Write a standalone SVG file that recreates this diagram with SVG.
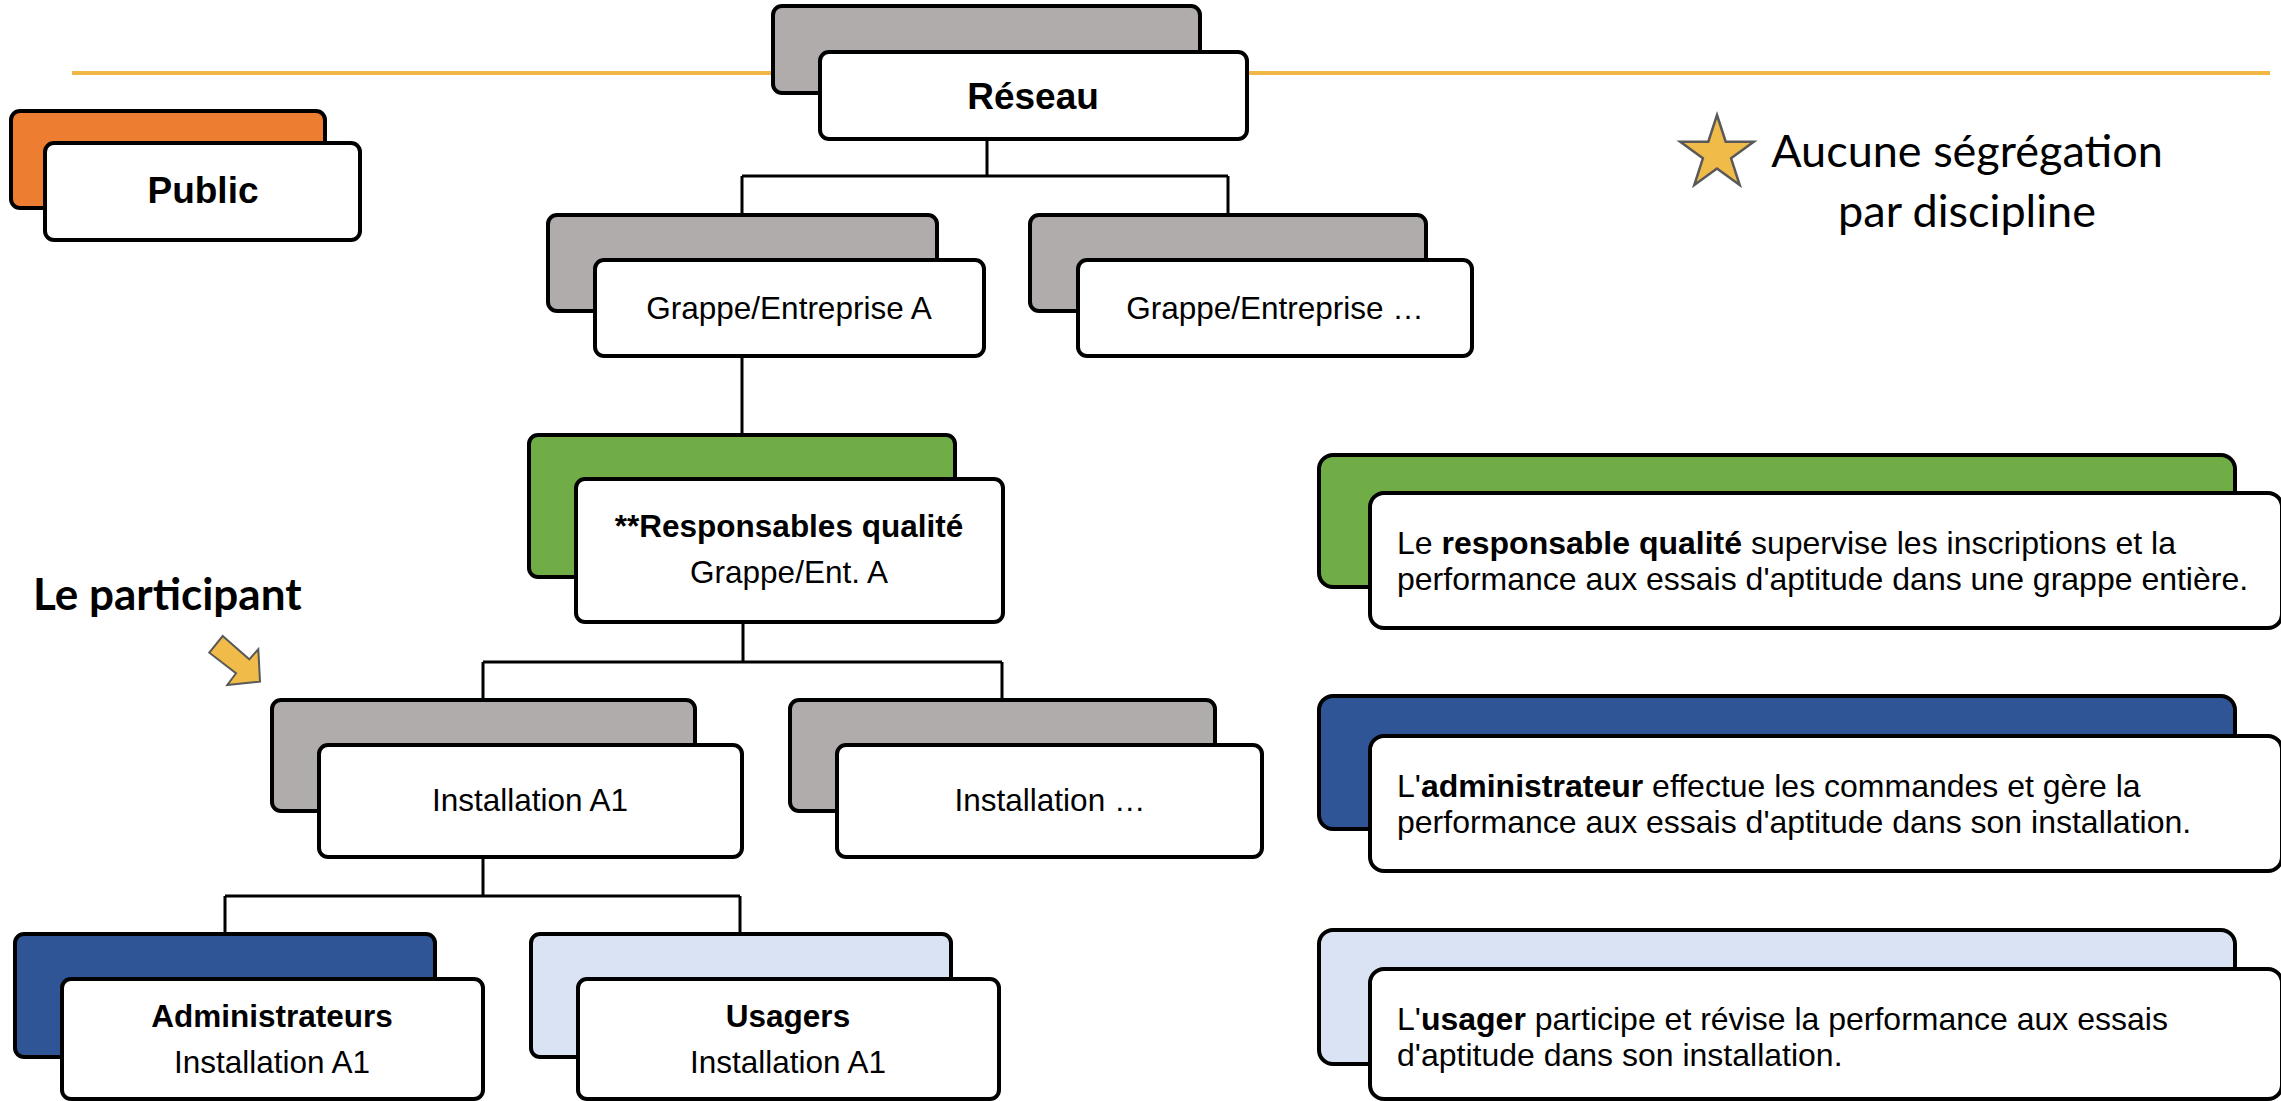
<svg xmlns="http://www.w3.org/2000/svg" width="2281" height="1101" viewBox="0 0 2281 1101">
<style>
.bk{stroke:#000;stroke-width:4;}
.fr{fill:#fff;stroke:#000;stroke-width:4;}
.gray{fill:#AFACAB;}
.orange{fill:#ED7D31;}
.green{fill:#70AD47;}
.blue{fill:#2F5597;}
.light{fill:#DAE3F3;}
.t{font-family:"Liberation Sans",Arial,sans-serif;font-size:31.5px;fill:#000;}
.tc{text-anchor:middle;}
.b{font-weight:bold;}
.big{font-size:37px;font-weight:bold;}
.desc{font-family:"Liberation Sans",Arial,sans-serif;font-size:32px;fill:#000;}
.cal{font-family:Lato,"Open Sans",sans-serif;fill:#000;}
.conn{fill:none;stroke:#000;stroke-width:3;}
</style>
<rect width="2281" height="1101" fill="#fff"/>
<line x1="72" y1="73" x2="2270" y2="73" stroke="#F0B744" stroke-width="4"/>

<g id="connectors">
<path class="conn" d="M987 139 V176 M742 176 H1228 M742 176 V215 M1228 176 V215"/>
<path class="conn" d="M742 355 V435"/>
<path class="conn" d="M743 622 V662 M483 662 H1002 M483 662 V700 M1002 662 V700"/>
<path class="conn" d="M483 857 V896 M225 896 H740 M225 896 V934 M740 896 V934"/>
</g>

<g id="reseau">
<rect class="bk gray" x="773" y="6" width="427" height="87" rx="9"/>
<rect class="fr" x="820" y="52" width="427" height="87" rx="9"/>
<text class="t tc big" x="1033" y="109">Réseau</text>
</g>

<g id="public">
<rect class="bk orange" x="11" y="111" width="314" height="97" rx="9"/>
<rect class="fr" x="45" y="143" width="315" height="97" rx="9"/>
<text class="t tc big" x="203" y="203">Public</text>
</g>

<g id="grappe-a">
<rect class="bk gray" x="548" y="215" width="389" height="96" rx="9"/>
<rect class="fr" x="595" y="260" width="389" height="96" rx="9"/>
<text class="t tc" x="789" y="319">Grappe/Entreprise A</text>
</g>

<g id="grappe-etc">
<rect class="bk gray" x="1030" y="215" width="396" height="96" rx="9"/>
<rect class="fr" x="1078" y="260" width="394" height="96" rx="9"/>
<text class="t tc" x="1275" y="319">Grappe/Entreprise …</text>
</g>

<g id="responsables">
<rect class="bk green" x="529" y="435" width="426" height="142" rx="9"/>
<rect class="fr" x="576" y="479" width="427" height="143" rx="9"/>
<text class="t tc b" x="789" y="537">**Responsables qualité</text>
<text class="t tc" x="789" y="583">Grappe/Ent. A</text>
</g>

<g id="installation-a1">
<rect class="bk gray" x="272" y="700" width="423" height="111" rx="9"/>
<rect class="fr" x="319" y="745" width="423" height="112" rx="9"/>
<text class="t tc" x="530" y="811">Installation A1</text>
</g>

<g id="installation-etc">
<rect class="bk gray" x="790" y="700" width="425" height="111" rx="9"/>
<rect class="fr" x="837" y="745" width="425" height="112" rx="9"/>
<text class="t tc" x="1050" y="811">Installation …</text>
</g>

<g id="administrateurs">
<rect class="bk blue" x="15" y="934" width="420" height="123" rx="9"/>
<rect class="fr" x="62" y="979" width="421" height="120" rx="9"/>
<text class="t tc b" x="272" y="1027">Administrateurs</text>
<text class="t tc" x="272" y="1073">Installation A1</text>
</g>

<g id="usagers">
<rect class="bk light" x="531" y="934" width="420" height="123" rx="9"/>
<rect class="fr" x="578" y="979" width="421" height="120" rx="9"/>
<text class="t tc b" x="788" y="1027">Usagers</text>
<text class="t tc" x="788" y="1073">Installation A1</text>
</g>

<g id="legend-star">
<polygon points="1717,115 1725.7,141.7 1753.8,141.7 1731.1,158.3 1739.7,185 1717,168.5 1694.3,185 1702.9,158.3 1680.2,141.7 1708.3,141.7" fill="#F0BB48" stroke="#595959" stroke-width="2.5" stroke-linejoin="miter"/>
<text class="cal" font-size="45" text-anchor="middle" x="1967" y="167">Aucune ségrégation</text>
<text class="cal" font-size="45" text-anchor="middle" x="1967" y="227">par discipline</text>
</g>

<g id="participant">
<text class="cal" font-size="44" font-weight="bold" x="33" y="610">Le participant</text>
<polygon points="222.7,636 249.3,659.3 258.3,649.3 260,681.7 227.3,685 236,673.3 209.3,652.7" fill="#F0BB48" stroke="#595959" stroke-width="2" stroke-linejoin="miter"/>
</g>

<g id="desc-responsable">
<rect class="bk green" x="1319" y="455" width="916" height="132" rx="14"/>
<rect class="fr" x="1370" y="493" width="912" height="135" rx="14"/>
<text class="desc" x="1397" y="554">Le <tspan font-weight="bold">responsable qualité</tspan> supervise les inscriptions et la</text>
<text class="desc" x="1397" y="590">performance aux essais d'aptitude dans une grappe entière.</text>
</g>

<g id="desc-administrateur">
<rect class="bk blue" x="1319" y="696" width="916" height="133" rx="14"/>
<rect class="fr" x="1370" y="736" width="912" height="135" rx="14"/>
<text class="desc" x="1397" y="797">L'<tspan font-weight="bold">administrateur</tspan> effectue les commandes et gère la</text>
<text class="desc" x="1397" y="833">performance aux essais d'aptitude dans son installation.</text>
</g>

<g id="desc-usager">
<rect class="bk light" x="1319" y="930" width="916" height="134" rx="14"/>
<rect class="fr" x="1370" y="969" width="912" height="130" rx="14"/>
<text class="desc" x="1397" y="1030">L'<tspan font-weight="bold">usager</tspan> participe et révise la performance aux essais</text>
<text class="desc" x="1397" y="1066">d'aptitude dans son installation.</text>
</g>
</svg>
